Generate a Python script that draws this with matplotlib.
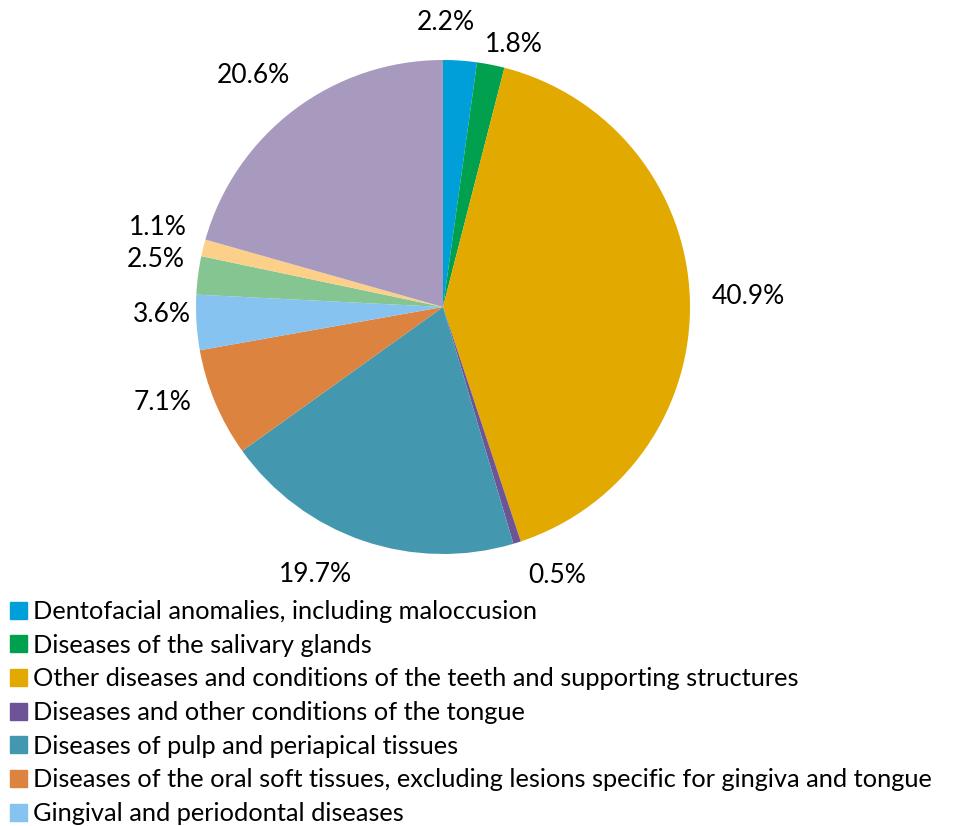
import matplotlib.pyplot as plt
import matplotlib.patches as mpatches
import numpy as np

plt.rcParams['font.family'] = ['Lato', 'DejaVu Sans']

# Udział poszczególnych grup chorób (%)
categories = [
    "Dentofacial anomalies, including maloccusion",
    "Diseases of the salivary glands",
    "Other diseases and conditions of the teeth and supporting structures",
    "Diseases and other conditions of the tongue",
    "Diseases of pulp and periapical tissues",
    "Diseases of the oral soft tissues, excluding lesions specific for gingiva and tongue",
    "Gingival and periodontal diseases",
]
shares = [2.2, 1.8, 40.9, 0.5, 19.7, 7.1, 3.6, 2.5, 1.1, 20.6]
colors = ["#009fda", "#00a04e", "#e2a900", "#6e5496", "#4398b0",
          "#db833f", "#86c3f1", "#85c592", "#fdd08a", "#a89abe"]

# Położenie etykiet: odległość od środka (w promieniach) i przesunięcie kąta (stopnie)
label_dist = [1.15, 1.10, 1.235, 1.18, 1.20, 1.20, 1.14, 1.18, 1.20, 1.21]
label_shift = [3.4, -4.0, 0.0, 5.5, -6.6, -4.0, -2.0, -2.0, -1.7, 2.3]

fig = plt.figure(figsize=(9.55, 8.26), dpi=100)
ax = fig.add_axes([196 / 955, 272 / 826, 494 / 955, 494 / 826])

wedges, _ = ax.pie(shares, colors=colors, startangle=90, counterclock=False,
                   radius=1, wedgeprops=dict(linewidth=0))

for w, val, d, s in zip(wedges, shares, label_dist, label_shift):
    ang = np.deg2rad((w.theta1 + w.theta2) / 2 + s)
    ax.text(d * np.cos(ang), d * np.sin(ang), f"{val:.1f}%",
            ha="center", va="center", fontsize=19)

ax.set_xlim(-1, 1)
ax.set_ylim(-1, 1)
ax.set_aspect("equal")
ax.axis("off")

# Legenda pod wykresem (ostatnia pozycja dochodzi do krawędzi rysunku)
handles = [mpatches.Patch(color=c) for c in colors[:len(categories)]]
fig.legend(handles, categories, loc="upper left", bbox_to_anchor=(10 / 955, 1 - 600 / 826),
           frameon=False, fontsize=18.3, borderpad=0, borderaxespad=0,
           handlelength=0.65, handleheight=0.65, handletextpad=0.25, labelspacing=0.42)

fig.savefig("out.png", dpi=100)
plt.close(fig)
